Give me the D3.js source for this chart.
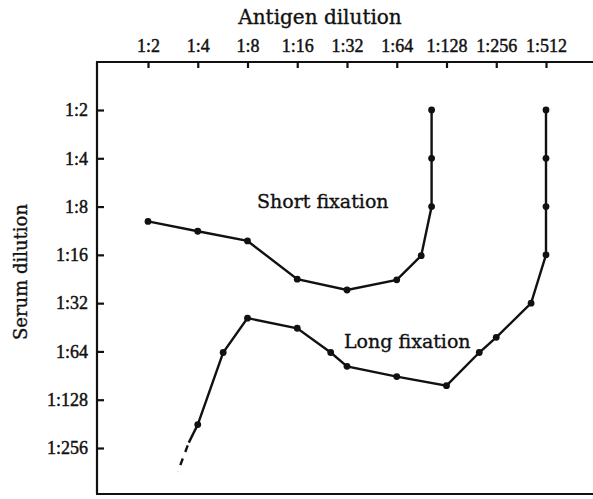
<!DOCTYPE html>
<html lang="en">
  <head>
    <meta charset="UTF-8" />
    <title>Antigen and serum dilution</title>
    <style>
      body { margin: 0; background: #fff; }
      svg text { font-family: "DejaVu Serif", "Liberation Serif", serif; fill: #111; stroke: #111; stroke-width: 0.35; }
      svg .tick text { font-family: "Liberation Serif", serif; stroke-width: 0.45; }
    </style>
  </head>
  <body>
    <svg></svg>
    <script src="https://d3js.org/d3.v7.min.js"></script>
    <script>
      // dilutions are stored as the denominator (1:n)
      const antigenTicks = [2, 4, 8, 16, 32, 64, 128, 256, 512];
      const serumTicks = [2, 4, 8, 16, 32, 64, 128, 256];

      const shortAntigen = [2, 4, 8, 16, 32, 64, 90, 104, 104, 104];
      const shortSerum = [9.9, 11.4, 13.1, 22.7, 26.5, 22.9, 16.2, 8, 4, 2];

      const longAntigen = [4, 5.7, 8, 16, 25.5, 32, 64, 128, 202, 256, 416, 512, 512, 512, 512];
      const longSerum = [183, 65, 39.7, 45.9, 65, 79.3, 91.8, 104.7, 65, 52.3, 32, 16, 8, 4, 2];

      // extrapolated tail of the long fixation curve
      const tailAntigen = [4, 3.53, 3.03];
      const tailSerum = [183, 237, 360];

      const W = 593, H = 499;
      const margin = { top: 62, right: 0, bottom: 5, left: 97 };
      const width = W - margin.left - margin.right;
      const height = H - margin.top - margin.bottom;

      const svg = d3.select("svg").attr("width", W).attr("height", H);
      const g = svg.append("g").attr("transform", `translate(${margin.left},${margin.top})`);

      const x = d3.scaleLog().base(2).domain([2, 512]).range([51, 449]);
      const y = d3.scaleLog().base(2).domain([2, 256]).range([48, 386]);

      // frame lines: top, left, bottom
      const frame = g.append("g").attr("stroke", "#111").attr("stroke-width", 2.2).attr("fill", "none");
      frame.append("line").attr("x1", -1).attr("x2", width).attr("y1", 0).attr("y2", 0);
      frame.append("line").attr("x1", 0).attr("x2", 0).attr("y1", 0).attr("y2", height);
      frame.append("line").attr("x1", -1).attr("x2", width).attr("y1", height).attr("y2", height);

      // top axis, ticks pointing into the plot
      const xAxis = g.append("g")
        .call(d3.axisTop(x).tickValues(antigenTicks).tickFormat((d) => "1:" + d)
          .tickSizeInner(-6).tickSizeOuter(0).tickPadding(10));
      xAxis.select(".domain").remove();
      xAxis.selectAll("line").attr("stroke", "#111").attr("stroke-width", 2.2);
      xAxis.selectAll("text").attr("font-size", 18).attr("font-family", null);

      // left axis
      const yAxis = g.append("g")
        .call(d3.axisLeft(y).tickValues(serumTicks).tickFormat((d) => "1:" + d)
          .tickSizeInner(-7).tickSizeOuter(0).tickPadding(9));
      yAxis.select(".domain").remove();
      yAxis.selectAll("line").attr("stroke", "#111").attr("stroke-width", 2.2);
      yAxis.selectAll("text").attr("font-size", 18).attr("font-family", null);

      // axis titles
      svg.append("text").attr("x", 320).attr("y", 24).attr("text-anchor", "middle")
        .attr("font-size", 20).text("Antigen dilution");
      svg.append("text").attr("transform", "translate(27,272) rotate(-90)")
        .attr("text-anchor", "middle").attr("font-size", 18).text("Serum dilution");

      const line = d3.line().x((d) => x(d[0])).y((d) => y(d[1]));
      const shortData = d3.zip(shortAntigen, shortSerum);
      const longData = d3.zip(longAntigen, longSerum);
      const tailData = d3.zip(tailAntigen, tailSerum);

      [shortData, longData].forEach((data) => {
        g.append("path").datum(data).attr("d", line)
          .attr("fill", "none").attr("stroke", "#111").attr("stroke-width", 2.4);
        g.selectAll(null).data(data).enter().append("circle")
          .attr("cx", (d) => x(d[0])).attr("cy", (d) => y(d[1])).attr("r", 3.4).attr("fill", "#111");
      });

      g.append("path").datum(tailData.slice(0, 2)).attr("d", line)
        .attr("fill", "none").attr("stroke", "#111").attr("stroke-width", 2.4);
      g.append("path").datum(tailData.slice(1)).attr("d", line)
        .attr("fill", "none").attr("stroke", "#111").attr("stroke-width", 2.4)
        .attr("stroke-dasharray", "0 3 7 4");

      // curve labels
      g.append("text").attr("x", 160).attr("y", 146)
        .attr("font-size", 19).text("Short fixation");
      g.append("text").attr("x", 247).attr("y", 286).attr("font-size", 19).text("Long fixation");
    </script>
  </body>
</html>
